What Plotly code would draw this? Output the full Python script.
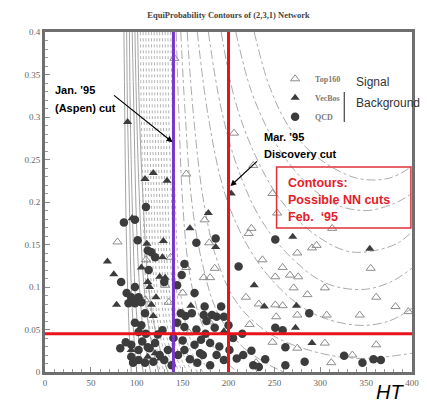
import plotly.graph_objects as go

# ---------------- data ----------------
title_text = "EquiProbability Contours of (2,3,1) Network"
x_tick_vals = [0, 50, 100, 150, 200, 250, 300, 350, 400]
y_tick_vals = [0, 0.05, 0.1, 0.15, 0.2, 0.25, 0.3, 0.35, 0.4]
y_tick_text = ["0", "0.05", "0.1", "0.15", "0.2", "0.25", "0.3", "0.35", "0.4"]

# cuts
aspen_cut_ht = 140
discovery_cut_ht = 200
second_var_cut = 0.045

# Top160 (signal)
top160_x = [141, 154, 174, 79, 179, 137, 110, 154, 185, 173, 180, 131, 109, 135, 150, 179, 157,
            206, 227, 248, 253, 225, 222, 275, 291, 296, 313, 237, 355, 259, 251, 267, 276, 271,
            305, 286, 219, 251, 259, 233, 361, 382, 252, 275, 307, 343, 396, 223, 305, 361, 248,
            275, 312, 335, 230]
top160_y = [0.369, 0.233, 0.179, 0.153, 0.152, 0.135, 0.132, 0.123, 0.122, 0.111, 0.111, 0.102,
            0.085, 0.082, 0.093, 0.059, 0.046, 0.281, 0.243, 0.210, 0.187, 0.169, 0.163, 0.140,
            0.146, 0.149, 0.169, 0.132, 0.122, 0.123, 0.112, 0.114, 0.112, 0.099, 0.099, 0.091,
            0.088, 0.079, 0.078, 0.080, 0.088, 0.077, 0.065, 0.067, 0.067, 0.067, 0.071, 0.056,
            0.034, 0.032, 0.035, 0.028, 0.011, 0.020, 0.011]

# VecBos (background)
vecbos_x = [90, 118, 109, 133, 178, 95, 158, 186, 129, 111, 68, 128, 105, 75, 125, 131, 112, 114,
            78, 121, 116, 159, 118, 203, 270, 354, 228, 239, 274, 94, 291, 273, 112, 120, 126, 195]
vecbos_y = [0.294, 0.234, 0.227, 0.225, 0.187, 0.181, 0.169, 0.147, 0.154, 0.151, 0.130, 0.135,
            0.123, 0.115, 0.112, 0.111, 0.106, 0.100, 0.079, 0.088, 0.079, 0.078, 0.066, 0.210,
            0.159, 0.145, 0.102, 0.077, 0.078, 0.026, 0.034, 0.052, 0.018, 0.022, 0.016, 0.048]

# QCD (background)
qcd_x = [110, 86, 98, 101, 186, 165, 112, 116, 120, 152, 113, 83, 149, 130, 144, 98, 89, 94, 102,
         91, 105, 98, 163, 174, 182, 192, 187, 195, 173, 148, 153, 160, 109, 98, 105, 102, 128,
         123, 144, 152, 251, 211, 288, 251, 259, 82, 94, 102, 112, 120, 94, 102, 96, 109, 114,
         125, 130, 134, 152, 163, 169, 180, 187, 195, 166, 180, 201, 209, 216, 227, 233, 262,
         283, 326, 346, 358, 366, 262, 165, 175, 185, 205, 215, 170, 140, 150, 200,
         88, 106, 118, 138, 145, 158, 172, 190, 240, 225, 110, 176]
qcd_y = [0.194, 0.176, 0.179, 0.155, 0.157, 0.152, 0.143, 0.141, 0.135, 0.127, 0.120, 0.106,
         0.114, 0.106, 0.102, 0.100, 0.093, 0.088, 0.088, 0.081, 0.082, 0.081, 0.093, 0.077,
         0.067, 0.077, 0.065, 0.065, 0.067, 0.069, 0.066, 0.069, 0.069, 0.058, 0.055, 0.047,
         0.049, 0.044, 0.058, 0.053, 0.156, 0.124, 0.069, 0.052, 0.049, 0.028, 0.032, 0.026,
         0.029, 0.034, 0.018, 0.014, 0.011, 0.011, 0.028, 0.020, 0.014, 0.026, 0.026, 0.032,
         0.022, 0.034, 0.020, 0.014, 0.011, 0.008, 0.026, 0.016, 0.020, 0.008, 0.006, 0.008,
         0.012, 0.019, 0.011, 0.015, 0.014, 0.029, 0.050, 0.045, 0.052, 0.040, 0.045, 0.038,
         0.040, 0.037, 0.055,
         0.035, 0.036, 0.012, 0.008, 0.020, 0.015, 0.020, 0.030, 0.015, 0.025, 0.045, 0.060]

# equiprobability contours of the network output, as (HT, y) vertices
solid_contours = [
    [(86, 0.40), (87, 0.30), (88, 0.20), (90, 0.10), (92, 0.04), (94, 0.00)],
    [(89, 0.40), (90, 0.30), (92, 0.20), (94, 0.10), (97, 0.04), (100, 0.00)],
    [(92, 0.40), (93, 0.30), (95, 0.20), (98, 0.10), (102, 0.04), (107, 0.00)],
    [(95, 0.40), (97, 0.30), (99, 0.20), (103, 0.10), (108, 0.04), (115, 0.00)],
    [(98, 0.40), (100, 0.30), (103, 0.20), (108, 0.10), (115, 0.04), (124, 0.00)],
    [(101, 0.40), (103, 0.30), (107, 0.20), (113, 0.10), (122, 0.04), (134, 0.00)],
]
dotted_contours = [
    [(104, 0.40), (105, 0.30), (107, 0.20), (110, 0.10), (116, 0.04), (126, 0.00)],
    [(107, 0.40), (108, 0.30), (110, 0.20), (113, 0.10), (119, 0.04), (130, 0.00)],
    [(110, 0.40), (111, 0.30), (113, 0.20), (116, 0.10), (122, 0.04), (134, 0.00)],
    [(113, 0.40), (114, 0.30), (116, 0.20), (119, 0.10), (126, 0.04), (138, 0.00)],
    [(116, 0.40), (117, 0.30), (119, 0.20), (122, 0.10), (129, 0.04), (142, 0.00)],
    [(119, 0.40), (120, 0.30), (122, 0.20), (126, 0.10), (133, 0.04), (146, 0.00)],
    [(122, 0.40), (123, 0.30), (125, 0.20), (129, 0.10), (136, 0.04), (150, 0.00)],
    [(125, 0.40), (126, 0.30), (128, 0.20), (132, 0.10), (140, 0.04), (155, 0.00)],
    [(128, 0.40), (129, 0.30), (131, 0.20), (135, 0.10), (144, 0.04), (160, 0.00)],
    [(131, 0.40), (132, 0.30), (134, 0.20), (139, 0.10), (148, 0.04), (166, 0.00)],
    [(134, 0.40), (135, 0.30), (138, 0.20), (143, 0.10), (153, 0.04), (172, 0.00)],
    [(137, 0.40), (139, 0.30), (142, 0.20), (147, 0.10), (158, 0.04), (180, 0.00)],
]
dashdot_contours = [
    [(143, 0.40), (146, 0.30), (150, 0.20), (157, 0.12), (170, 0.06), (190, 0.02), (210, 0.00)],
    [(148, 0.40), (153, 0.30), (160, 0.20), (171, 0.13), (188, 0.07), (215, 0.03), (245, 0.008), (260, 0.00)],
    [(155, 0.40), (162, 0.30), (173, 0.20), (188, 0.13), (210, 0.08), (245, 0.045), (290, 0.025), (340, 0.016), (400, 0.022)],
    [(166, 0.40), (178, 0.30), (196, 0.21), (220, 0.15), (250, 0.105), (290, 0.07), (340, 0.055), (375, 0.06), (400, 0.075)],
    [(178, 0.40), (192, 0.31), (210, 0.24), (235, 0.18), (268, 0.135), (305, 0.105), (345, 0.097), (375, 0.105), (400, 0.122)],
    [(192, 0.40), (207, 0.32), (227, 0.26), (255, 0.205), (290, 0.165), (330, 0.142), (360, 0.143), (385, 0.152), (400, 0.165)],
    [(208, 0.40), (225, 0.33), (248, 0.275), (278, 0.23), (315, 0.198), (350, 0.19), (380, 0.198), (400, 0.21)],
    [(228, 0.40), (245, 0.335), (268, 0.285), (300, 0.25), (340, 0.228), (375, 0.228), (400, 0.242)],
]

# ---------------- figure ----------------
fig = go.Figure()

contour_styles = [
    (solid_contours, "solid", "#9a9a9a", 0.9),
    (dotted_contours, "dot", "#a8a8a8", 0.9),
    (dashdot_contours, "dashdot", "#a0a0a0", 0.9),
]
for group, dash, color, width in contour_styles:
    for curve in group:
        fig.add_trace(go.Scatter(
            x=[p[0] for p in curve], y=[p[1] for p in curve],
            mode="lines", line=dict(color=color, width=width, dash=dash, shape="spline"),
            showlegend=False, hoverinfo="skip"))

fig.add_trace(go.Scatter(
    x=top160_x, y=top160_y, mode="markers", name="Top160",
    marker=dict(symbol="triangle-up-open", size=8, color="#8c8c8c", line=dict(width=1, color="#8c8c8c"))))
fig.add_trace(go.Scatter(
    x=vecbos_x, y=vecbos_y, mode="markers", name="VecBos",
    marker=dict(symbol="triangle-up", size=8, color="#3c3c3c")))
fig.add_trace(go.Scatter(
    x=qcd_x, y=qcd_y, mode="markers", name="QCD",
    marker=dict(symbol="circle", size=8.5, color="#3c3c3c")))

# cut lines
fig.add_shape(type="line", xref="x", yref="paper", x0=aspen_cut_ht, x1=aspen_cut_ht, y0=0, y1=1,
              line=dict(color="#7a35c9", width=3), layer="above")
fig.add_shape(type="line", xref="x", yref="paper", x0=discovery_cut_ht, x1=discovery_cut_ht, y0=0, y1=1,
              line=dict(color="#e8141c", width=3), layer="above")
fig.add_shape(type="line", xref="paper", yref="y", x0=0, x1=1, y0=second_var_cut, y1=second_var_cut,
              line=dict(color="#e8141c", width=3), layer="above")

# red note box
fig.add_shape(type="rect", xref="paper", yref="paper", x0=0.631, x1=0.997, y0=0.4235, y1=0.603,
              line=dict(color="#e0303a", width=1.5), fillcolor="rgba(255,255,255,0)", layer="above")
# signal / background bracket
fig.add_shape(type="line", xref="paper", yref="paper", x0=0.8155, x1=0.8155, y0=0.735, y1=0.8235,
              line=dict(color="#444444", width=1.2), layer="above")

sans = "Liberation Sans, Arial, sans-serif"
notes = [
    ("Jan. \u201995", 0.0214, 0.829, 11, "black", True),
    ("(Aspen) cut", 0.0214, 0.776, 11, "black", True),
    ("Mar. \u201995", 0.591, 0.691, 11, "black", True),
    ("Discovery cut", 0.591, 0.641, 11, "black", True),
    ("Contours:", 0.658, 0.556, 12.5, "#e3202a", True),
    ("Possible NN cuts", 0.658, 0.506, 12.5, "#e3202a", True),
    ("Feb.  \u201895", 0.658, 0.456, 12.5, "#e3202a", True),
    ("Signal", 0.842, 0.853, 12, "#333333", False),
    ("Background", 0.842, 0.791, 12, "#333333", False),
]
for text, x, y, size, color, bold in notes:
    fig.add_annotation(text=f"<b>{text}</b>" if bold else text, xref="paper", yref="paper",
                       x=x, y=y, xanchor="left", yanchor="middle", showarrow=False,
                       font=dict(family=sans, size=size, color=color))

fig.add_annotation(text="<i>HT</i>", xref="paper", yref="paper", x=0.941, y=-0.0588,
                   xanchor="center", yanchor="middle", showarrow=False,
                   font=dict(family=sans, size=20, color="black"))

# arrows pointing at the cut lines
fig.add_annotation(text="", xref="paper", yref="paper", x=0.3476, y=0.676, ax=-60, ay=-48,
                   showarrow=True, arrowhead=2, arrowsize=1, arrowwidth=1.2, arrowcolor="black")
fig.add_annotation(text="", xref="paper", yref="paper", x=0.5053, y=0.547, ax=28, ay=-26,
                   showarrow=True, arrowhead=2, arrowsize=1, arrowwidth=1.2, arrowcolor="black")

serif = "Liberation Serif, Times New Roman, serif"
axis_common = dict(showline=True, mirror=True, linecolor="#6f6f6f", linewidth=3,
                   showgrid=False, zeroline=False, ticks="inside", ticklen=5,
                   tickcolor="#8a8a8a", tickwidth=1,
                   tickfont=dict(family=serif, size=9, color="#666666"))

fig.update_layout(
    width=427, height=402,
    margin=dict(l=45, r=8, t=32, b=30),
    paper_bgcolor="white", plot_bgcolor="white",
    title=dict(text=f"<b>{title_text}</b>", x=0.5, xref="paper", y=1 - 15 / 402, yref="container",
               xanchor="center", yanchor="middle",
               font=dict(family=serif, size=8.5, color="#444444")),
    xaxis=dict(range=[0, 400], tickvals=x_tick_vals,
               minor=dict(dtick=10, ticks="inside", ticklen=3, tickcolor="#9a9a9a"), **axis_common),
    yaxis=dict(range=[0, 0.4], tickvals=y_tick_vals, ticktext=y_tick_text,
               minor=dict(dtick=0.01, ticks="inside", ticklen=3, tickcolor="#9a9a9a"), **axis_common),
    legend=dict(x=0.627, y=0.905, xanchor="left", yanchor="top", bgcolor="rgba(0,0,0,0)",
                font=dict(family=serif, size=8, color="#7a7a7a", weight="bold"),
                tracegroupgap=0),
    showlegend=True,
)

fig.write_html("out.html")
